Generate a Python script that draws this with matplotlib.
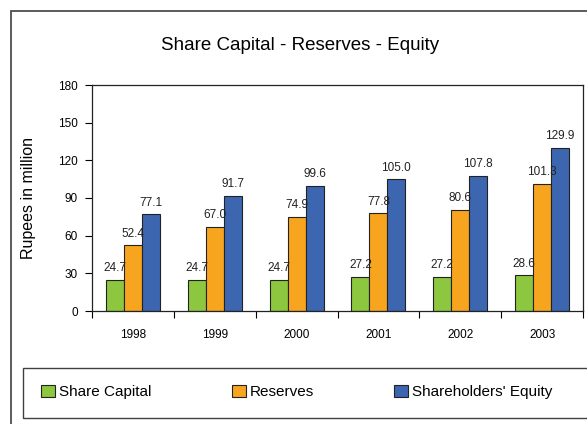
import numpy as np
import matplotlib.pyplot as plt
from matplotlib.patches import Rectangle

years = ["1998", "1999", "2000", "2001", "2002", "2003"]
share_capital = [24.7, 24.7, 24.7, 27.2, 27.2, 28.6]
reserves = [52.4, 67.0, 74.9, 77.8, 80.6, 101.3]
equity = [77.1, 91.7, 99.6, 105.0, 107.8, 129.9]

plt.rcParams["font.family"] = ["Liberation Sans", "DejaVu Sans"]

fig = plt.figure(figsize=(5.87, 4.24), dpi=100)
ax = fig.add_axes([92 / 587, 113 / 424, 491 / 587, 226 / 424])

# outer chart frame
fig.patches.append(Rectangle((11 / 587, -0.1), 1.0, 1 - 11 / 424 + 0.1,
                             transform=fig.transFigure, fill=False,
                             edgecolor="#404040", linewidth=1.2))
# legend frame
fig.patches.append(Rectangle((23 / 587, 6 / 424), 1.0, 50 / 424,
                             transform=fig.transFigure, fill=False,
                             edgecolor="#404040", linewidth=1.0))

x = np.arange(len(years))
w = 0.22
series = [("Share Capital", share_capital, "#8dc63f"),
          ("Reserves", reserves, "#f7a51e"),
          ("Shareholders' Equity", equity, "#3d66b0")]
handles = []
for i, (name, vals, color) in enumerate(series):
    bars = ax.bar(x + (i - 1) * w, vals, w, color=color, edgecolor="#222222",
                  linewidth=0.8, label=name)
    handles.append(bars)
    for b, v in zip(bars, vals):
        ax.annotate(f"{v:.1f}", (b.get_x() + b.get_width() / 2, v),
                    xytext=(0, 4), textcoords="offset points",
                    ha="center", va="bottom", fontsize=8.5, color="#222222")

ax.set_xlim(-0.5, len(years) - 0.5)
ax.set_ylim(0, 180)
ax.set_yticks(range(0, 181, 30))
ax.set_xticks(x)
ax.set_xticklabels(years)
ax.set_xticks(np.arange(-0.5, len(years), 1.0), minor=True)
ax.tick_params(axis="x", which="major", length=0, pad=13, labelsize=8.5)
ax.tick_params(axis="x", which="minor", length=5, width=0.8)
ax.tick_params(axis="y", length=5, width=0.8, labelsize=8.5, pad=5)
for s in ax.spines.values():
    s.set_linewidth(0.9)
    s.set_color("#222222")

ax.set_ylabel("Rupees in million", fontsize=11.5, labelpad=16)
fig.text(300 / 587, 1 - 45 / 424, "Share Capital - Reserves - Equity",
         ha="center", va="center", fontsize=13.5)

# one legend entry per column, placed like the original
for (name, _, _), h, xpos in zip(series, handles, [41, 232, 394]):
    fig.legend([h], [name], loc="center left",
               bbox_to_anchor=(xpos / 587, 1 - 392 / 424),
               fontsize=11, frameon=False, borderpad=0, borderaxespad=0,
               handlelength=0.9, handleheight=0.9, handletextpad=0.25)

fig.savefig("out.png", dpi=100)
